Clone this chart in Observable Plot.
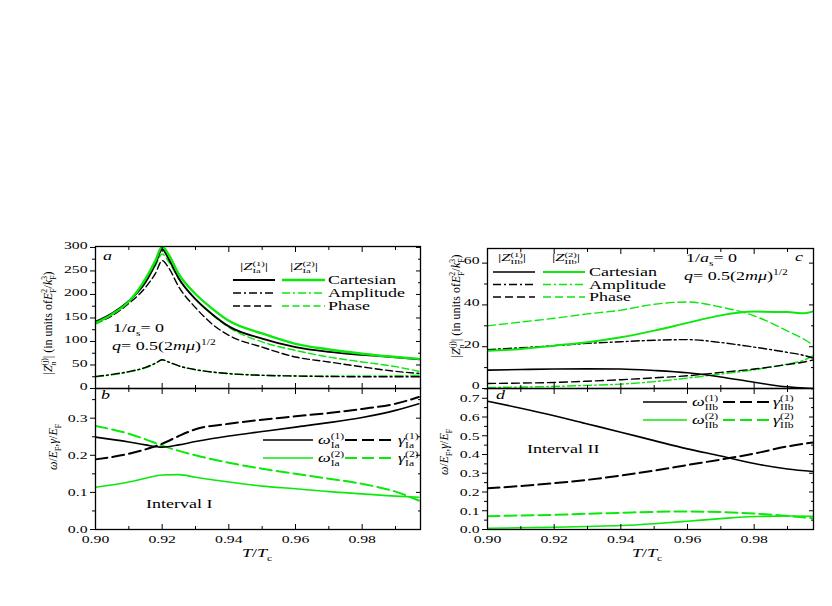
<!DOCTYPE html>
<html><head><meta charset="utf-8">
<script src="https://cdn.jsdelivr.net/npm/d3@7"></script>
<script src="https://cdn.jsdelivr.net/npm/@observablehq/plot@0.6"></script>
<style>
body{margin:0;background:#fff}
#fig{position:relative;width:832px;height:606px;background:#fff;overflow:hidden;font-family:"Liberation Serif","Times New Roman",Times,"DejaVu Serif",serif}
#fig svg{position:absolute}
#fig text{font-family:"Liberation Serif","Times New Roman",Times,"DejaVu Serif",serif}
</style>
</head><body><div id="fig"></div>
<script>
// ---------- data ----------
const xTicksMajor = [0.90, 0.92, 0.94, 0.96, 0.98];
const xTicksMinor = [0.91, 0.93, 0.95, 0.97, 0.99];

// panel a : |Z_Ia| vs T/Tc
const tA = [0.900,0.905,0.910,0.915,0.918,0.920,0.922,0.925,0.930,0.935,0.940,0.950,0.960,0.970,0.980,0.990,0.997];
const aCart1  = [142,160,186,226,265,296,275,234,190,158,132,106,88,78,71.6,66.5,62];
const aCart2  = [139,158,185,233,272,302,284,243,201,170,144,117,95,83,74,67,63];
const aAmp1   = [25.5,30,36,45,54,61,56,48,40,35,31.5,28,26.5,25.5,25,25,25];
const aAmp2   = [24.5,29,35,44,53,61,56,48,40,35,32,28.5,27,26.5,26.5,27,28];
const aPhase1 = [139,155,181,215,245,272,256,216,172,137,113,88,67,56.5,46,36.5,32];
const aPhase2 = [137,156,184,228,262,286,269,233,190,157,130,99,81,67,56.5,46.5,36.5];
const yTicksA = [0,50,100,150,200,250,300];
const yMinorA = [25,75,125,175,225,275];

// panel b : omega, gamma (interval I)
const tB = [0.900,0.910,0.915,0.920,0.925,0.930,0.940,0.950,0.960,0.970,0.980,0.990,0.997];
const bOmega1 = [0.249,0.236,0.228,0.222,0.228,0.237,0.252,0.264,0.276,0.288,0.302,0.321,0.339];
const bGamma1 = [0.189,0.204,0.216,0.231,0.252,0.270,0.285,0.296,0.305,0.314,0.325,0.339,0.357];
const bOmega2 = [0.114,0.128,0.138,0.147,0.148,0.141,0.128,0.117,0.110,0.102,0.096,0.090,0.087];
const bGamma2 = [0.279,0.258,0.243,0.226,0.212,0.200,0.180,0.164,0.150,0.137,0.123,0.102,0.078];
const yTicksB = [0.0,0.1,0.2,0.3];
const yMinorB = [0.05,0.15,0.25,0.35];

// panel c : |Z_IIb| vs T/Tc
const tC = [0.900,0.910,0.920,0.930,0.940,0.950,0.960,0.970,0.980,0.990,0.995,0.998];
const cCart1  = [8.8,9.1,9.3,9.4,9.3,8.6,7.5,5.5,3.0,0.8,0.2,0.0];
const cCart2  = [18.1,18.9,20.5,22.1,24.5,27.7,31.4,35.0,36.8,36.6,36.0,37.0];
const cAmp1   = [18.6,19.5,20.5,21.6,22.4,23.1,23.4,22.0,19.8,17.3,15.8,14.4];
const cAmp2   = [0.5,0.7,1.0,1.5,2.1,3.3,5.0,6.9,9.0,11.7,13.6,16.0];
const cPhase1 = [2.4,2.6,2.9,3.5,4.2,5.1,6.1,7.7,9.3,11.5,12.7,13.8];
const cPhase2 = [30.0,31.8,33.6,35.7,37.5,40.3,41.4,39.0,34.8,27.5,23.5,20.5];
const yTicksC = [0,20,40,60];
const yMinorC = [10,30,50];

// panel d : omega, gamma (interval II)
const tD = [0.900,0.910,0.920,0.930,0.940,0.950,0.960,0.970,0.980,0.990,0.998];
const dOmega1 = [0.684,0.647,0.607,0.563,0.519,0.474,0.430,0.392,0.352,0.323,0.309];
const dGamma1 = [0.220,0.232,0.247,0.265,0.288,0.314,0.344,0.373,0.405,0.443,0.465];
const dOmega2 = [0.007,0.009,0.012,0.016,0.021,0.031,0.044,0.058,0.069,0.072,0.071];
const dGamma2 = [0.071,0.075,0.078,0.084,0.089,0.094,0.096,0.093,0.085,0.072,0.060];
const yTicksD = [0.0,0.1,0.2,0.3,0.4,0.5,0.6,0.7];
const yMinorD = [0.05,0.15,0.25,0.35,0.45,0.55,0.65,0.75];

// ---------- styles ----------
const GREEN = "#0be80b";
const SX = 1.5;      // horizontal text stretch of the original figure
const FONT = '"Liberation Serif","Times New Roman",Times,"DejaVu Serif",serif';
const fig = document.getElementById("fig");

function series(ts, vs){ return ts.map((t,i)=>({t, v: vs[i]})); }

function stretchTexts(svg){
  svg.querySelectorAll("text").forEach(t=>{
    let tr = t.getAttribute("transform") || "";
    const xa = t.getAttribute("x");
    if (xa !== null && /^-?[\d.]+$/.test(xa)) { tr += ` translate(${xa},0)`; t.removeAttribute("x"); }
    t.setAttribute("transform", tr + ` scale(${SX},1)`);
  });
}

const tickOnly = {fill:"none", label:null};
function panel({left, top, width, height, mt, mb, ml, mr, xDomain, yDomain, yTicks, yMinor, yFmt, yDy=0, xLabels, lines}){
  const marks = [];
  for (const L of lines) {
    marks.push(Plot.line(L.data, {x:"t", y:"v", stroke:L.stroke, strokeWidth:L.w, strokeDasharray:L.dash || null, curve:"monotone-x", clip:true}));
  }
  marks.push(
    Plot.frame({stroke:"black", strokeWidth:1.3}),
    Plot.axisY(yTicks, {anchor:"left", tickSize:0, tickPadding:8, tickFormat:yFmt, label:null, fontSize:10.5, dy:yDy}),
    Plot.axisY(yTicks, {anchor:"left", tickSize:5, ...tickOnly}),
    Plot.axisY(yMinor, {anchor:"left", tickSize:3, ...tickOnly}),
    Plot.axisY(yTicks, {anchor:"right", tickSize:5, insetRight:5, ...tickOnly}),
    Plot.axisY(yMinor, {anchor:"right", tickSize:3, insetRight:3, ...tickOnly}),
    Plot.axisX(xTicksMajor, {anchor:"bottom", tickSize:5, insetBottom:5, ...tickOnly}),
    Plot.axisX(xTicksMinor, {anchor:"bottom", tickSize:3, insetBottom:3, ...tickOnly}),
    Plot.axisX(xTicksMajor, {anchor:"top", tickSize:5, insetTop:5, ...tickOnly}),
    Plot.axisX(xTicksMinor, {anchor:"top", tickSize:3, insetTop:3, ...tickOnly})
  );
  if (xLabels) marks.push(Plot.axisX(xTicksMajor, {anchor:"bottom", tickSize:0, tickPadding:6, tickFormat:d3.format(".2f"), label:null, fontSize:10.5}));
  const p = Plot.plot({
    width, height, marginTop:mt, marginBottom:mb, marginLeft:ml, marginRight:mr,
    x:{domain:xDomain},
    y:{domain:yDomain},
    style:{fontFamily:FONT, fontSize:"10.5px", color:"black", background:"transparent", overflow:"visible"},
    marks
  });
  p.style.left = left + "px";
  p.style.top = top + "px";
  p.style.maxWidth = "none";
  stretchTexts(p);
  fig.appendChild(p);
  return p;
}

const wa = 1.9, wt = 1.4;
// panel a
panel({left:0, top:236, width:430, height:153, mt:10, mb:1, ml:95, mr:10,
  xDomain:[0.90,0.9975], yDomain:[0,302], yTicks:yTicksA, yMinor:yMinorA, yFmt:d3.format("d"), yDy:-1.5, xLabels:false,
  lines:[
    {data:series(tA,aAmp2), stroke:GREEN, w:wt, dash:"8,3,2,3"},
    {data:series(tA,aAmp1), stroke:"black", w:wt, dash:"8,3,2,3"},
    {data:series(tA,aPhase2), stroke:GREEN, w:wt, dash:"7,3.5"},
    {data:series(tA,aPhase1), stroke:"black", w:wt, dash:"7,3.5"},
    {data:series(tA,aCart1), stroke:"black", w:wa},
    {data:series(tA,aCart2), stroke:GREEN, w:2.4},
  ]});
// panel b
panel({left:0, top:378, width:430, height:191, mt:10, mb:40, ml:95, mr:10,
  xDomain:[0.90,0.9975], yDomain:[0,0.38], yTicks:yTicksB, yMinor:yMinorB, yFmt:d3.format(".1f"), xLabels:true,
  lines:[
    {data:series(tB,bOmega2), stroke:GREEN, w:1.6},
    {data:series(tB,bGamma2), stroke:GREEN, w:2, dash:"12,5"},
    {data:series(tB,bOmega1), stroke:"black", w:1.6},
    {data:series(tB,bGamma1), stroke:"black", w:2, dash:"12,5"},
  ]});
// panel c
panel({left:400, top:238, width:426, height:151, mt:10, mb:1, ml:87, mr:13,
  xDomain:[0.90,0.9978], yDomain:[0,67], yTicks:yTicksC, yMinor:yMinorC, yFmt:d3.format("d"), yDy:-2.5, xLabels:false,
  lines:[
    {data:series(tC,cAmp2), stroke:GREEN, w:wt, dash:"8,3,2,3"},
    {data:series(tC,cAmp1), stroke:"black", w:wt, dash:"8,3,2,3"},
    {data:series(tC,cPhase2), stroke:GREEN, w:wt, dash:"8,4"},
    {data:series(tC,cPhase1), stroke:"black", w:wt, dash:"8,4"},
    {data:series(tC,cCart1), stroke:"black", w:1.6},
    {data:series(tC,cCart2), stroke:GREEN, w:2},
  ]});
// panel d
panel({left:400, top:378, width:426, height:191, mt:10, mb:40, ml:87, mr:13,
  xDomain:[0.90,0.9978], yDomain:[0,0.752], yTicks:yTicksD, yMinor:yMinorD, yFmt:d3.format(".1f"), yDy:0.5, xLabels:true,
  lines:[
    {data:series(tD,dOmega2), stroke:GREEN, w:1.6},
    {data:series(tD,dGamma2), stroke:GREEN, w:2, dash:"12,5"},
    {data:series(tD,dOmega1), stroke:"black", w:1.6},
    {data:series(tD,dGamma1), stroke:"black", w:2, dash:"12,5"},
  ]});

// ---------- overlay: legends, labels, annotations ----------
const ov = d3.select(fig).append("svg").attr("width",832).attr("height",606)
  .style("left","0px").style("top","0px").style("pointer-events","none")
  .style("font-family", FONT).attr("fill","black");

function rich(x, y, parts, {size=12, sx=SX, anchor="start", rotate=0}={}){
  const g = ov.append("g");
  let cx = 0;
  for (const p of parts) {
    if (p.sub !== undefined || p.sup !== undefined) {
      let w = 0;
      if (p.sup !== undefined) {
        const t = g.append("text").attr("transform",`translate(${cx},${-size*0.4}) scale(${sx},1)`).attr("font-size",size*0.64).attr("font-style",p.supIt?"italic":null).text(p.sup);
        w = Math.max(w, t.node().getComputedTextLength());
      }
      if (p.sub !== undefined) {
        const t = g.append("text").attr("transform",`translate(${cx},${size*0.3}) scale(${sx},1)`).attr("font-size",size*0.64).attr("font-style",p.subIt?"italic":null).text(p.sub);
        w = Math.max(w, t.node().getComputedTextLength());
      }
      cx += w*sx;
    } else {
      const t = g.append("text").attr("transform",`translate(${cx},0) scale(${sx},1)`).attr("font-size",size).attr("font-style",p.it?"italic":null).text(p.t);
      cx += t.node().getComputedTextLength()*sx;
    }
  }
  const off = anchor==="middle" ? cx/2 : anchor==="end" ? cx : 0;
  g.attr("transform",`translate(${x},${y}) rotate(${rotate}) translate(${-off},0)`);
}
function sample(x1, x2, y, stroke, w, dash){
  ov.append("line").attr("x1",x1).attr("x2",x2).attr("y1",y).attr("y2",y)
    .attr("stroke",stroke).attr("stroke-width",w).attr("stroke-dasharray",dash||null);
}

const legendRows = ["Cartesian","Amplitude","Phase"];
const legendDash = [null,"8,3,2,3","7,3.5"];

// panel a legend
rich(240, 270, [{t:"|"},{t:"Z",it:true},{sup:"(1)",sub:"Ia"},{t:"|"}], {size:11});
rich(290, 270, [{t:"|"},{t:"Z",it:true},{sup:"(2)",sub:"Ia"},{t:"|"}], {size:11});
legendRows.forEach((r,i)=>{
  const y = 280 + i*13;
  sample(233,275,y,"black",i===0?wa:wt,legendDash[i]);
  sample(282,325,y,GREEN,i===0?2.4:wt,legendDash[i]);
  rich(328, y+4, [{t:r}], {size:12});
});
rich(103, 260, [{t:"a",it:true}], {size:12});
rich(113, 332, [{t:"1/"},{t:"a",it:true},{sub:"s"},{t:" = 0"}], {size:12});
rich(112, 350, [{t:"q",it:true},{t:" = 0.5(2"},{t:"mμ",it:true},{t:")"},{sup:"1/2"}], {size:12});

// panel c legend
rich(498, 261, [{t:"|"},{t:"Z",it:true},{sup:"(1)",sub:"IIb"},{t:"|"}], {size:11});
rich(552, 261, [{t:"|"},{t:"Z",it:true},{sup:"(2)",sub:"IIb"},{t:"|"}], {size:11});
const legendDashC = [null,"8,3,2,3","8,4"];
legendRows.forEach((r,i)=>{
  const y = 272 + i*12.5;
  sample(493,535,y,"black",i===0?1.6:wt,legendDashC[i]);
  sample(543,585,y,GREEN,i===0?2:wt,legendDashC[i]);
  rich(589, y+4, [{t:r}], {size:12});
});
rich(686, 262, [{t:"1/"},{t:"a",it:true},{sub:"s"},{t:" = 0"}], {size:12});
rich(684, 280, [{t:"q",it:true},{t:" = 0.5(2"},{t:"mμ",it:true},{t:")"},{sup:"1/2"}], {size:12});
rich(795, 261, [{t:"c",it:true}], {size:12});

// panel b legend
const omegaLab = (s,j)=>[{t:"ω",it:true},{sup:`(${j})`,sub:s}];
const gammaLab = (s,j)=>[{t:"γ",it:true},{sup:`(${j})`,sub:s}];
[["black",1],[GREEN,2]].forEach(([c,j],i)=>{
  const y = 440 + i*18;
  sample(263,313,y,c,1.6,null);
  rich(318, y+4, omegaLab("Ia",j), {size:12});
  sample(345,393,y,c,2,"12,5");
  rich(398, y+4, gammaLab("Ia",j), {size:12});
});
rich(101, 399, [{t:"b",it:true}], {size:12});
rich(146, 508, [{t:"Interval I"}], {size:12});

// panel d legend
[["black",1],[GREEN,2]].forEach(([c,j],i)=>{
  const y = 402 + i*18;
  sample(643,687,y,c,1.6,null);
  rich(692, y+4, omegaLab("IIb",j), {size:12});
  sample(723,770,y,c,2,"12,5");
  rich(773, y+4, gammaLab("IIb",j), {size:12});
});
rich(496, 399, [{t:"d",it:true}], {size:12});
rich(527, 453, [{t:"Interval II"}], {size:12});

// axis titles
const zLabel = [{t:"|"},{t:"Z",it:true},{sup:"(j)",sub:"n",subIt:true},{t:"| (in units of "},{t:"E",it:true},{sup:"2",sub:"F"},{t:"/"},{t:"k",it:true},{sup:"3",sub:"F"},{t:")"}];
const wLabel = [{t:"ω",it:true},{t:"/"},{t:"E",it:true},{sub:"F"},{t:", "},{t:"γ",it:true},{t:"/"},{t:"E",it:true},{sub:"F"}];
rich(52, 323, zLabel, {size:12, sx:1, anchor:"middle", rotate:-90});
rich(57, 447, wLabel, {size:12, sx:1, anchor:"middle", rotate:-90});
rich(460, 306, zLabel, {size:12, sx:1, anchor:"middle", rotate:-90});
rich(448, 452, wLabel, {size:12, sx:1, anchor:"middle", rotate:-90});
const tLabel = [{t:"T",it:true},{t:"/"},{t:"T",it:true},{sub:"c"}];
rich(257, 557, tLabel, {size:12, anchor:"middle"});
rich(647, 557, tLabel, {size:12, anchor:"middle"});
</script>
</body></html>
